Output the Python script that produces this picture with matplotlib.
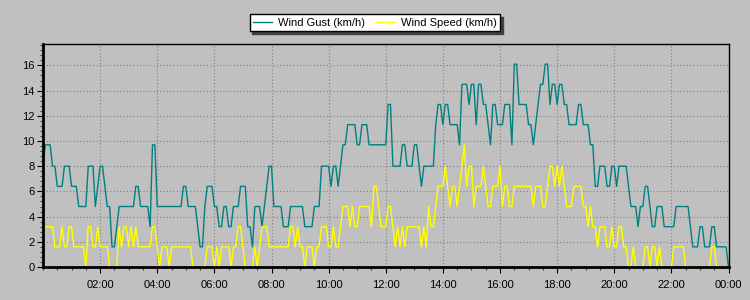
import matplotlib
matplotlib.use("Agg")
import matplotlib.pyplot as plt
from matplotlib.ticker import MultipleLocator, FixedLocator, FixedFormatter

plt.rcParams['font.family'] = ['Liberation Sans', 'DejaVu Sans']

# 5-minute samples from 00:00 to 24:00 (one row per hour)
wind_gust = [
    8.0, 9.7, 9.7, 9.7, 8.0, 8.0, 6.4, 6.4, 6.4, 8.0, 8.0, 8.0,
    6.4, 6.4, 6.4, 4.8, 4.8, 4.8, 4.8, 8.0, 8.0, 8.0, 4.8, 6.4,
    8.0, 8.0, 6.4, 4.8, 4.8, 1.6, 1.6, 3.2, 4.8, 4.8, 4.8, 4.8,
    4.8, 4.8, 4.8, 6.4, 6.4, 4.8, 4.8, 4.8, 4.8, 3.2, 9.7, 9.7,
    4.8, 4.8, 4.8, 4.8, 4.8, 4.8, 4.8, 4.8, 4.8, 4.8, 4.8, 6.4,
    6.4, 4.8, 4.8, 4.8, 4.8, 3.2, 1.6, 1.6, 4.8, 6.4, 6.4, 6.4,
    4.8, 4.8, 3.2, 3.2, 4.8, 4.8, 3.2, 3.2, 4.8, 4.8, 4.8, 6.4,
    6.4, 6.4, 3.2, 3.2, 1.6, 4.8, 4.8, 4.8, 3.2, 4.8, 6.4, 8.0,
    8.0, 4.8, 4.8, 4.8, 4.8, 3.2, 3.2, 3.2, 4.8, 4.8, 4.8, 4.8,
    4.8, 4.8, 3.2, 3.2, 3.2, 3.2, 4.8, 4.8, 4.8, 8.0, 8.0, 8.0,
    8.0, 6.4, 8.0, 8.0, 6.4, 8.0, 9.7, 9.7, 11.3, 11.3, 11.3, 11.3,
    9.7, 9.7, 11.3, 11.3, 11.3, 9.7, 9.7, 9.7, 9.7, 9.7, 9.7, 9.7,
    9.7, 12.9, 12.9, 8.0, 8.0, 8.0, 8.0, 9.7, 9.7, 8.0, 8.0, 8.0,
    9.7, 9.7, 8.0, 6.4, 8.0, 8.0, 8.0, 8.0, 8.0, 11.3, 12.9, 12.9,
    11.3, 12.9, 12.9, 11.3, 11.3, 11.3, 11.3, 9.7, 14.5, 14.5, 14.5, 12.9,
    14.5, 14.5, 11.3, 14.5, 14.5, 12.9, 12.9, 11.3, 9.7, 12.9, 12.9, 11.3,
    11.3, 11.3, 12.9, 12.9, 12.9, 9.7, 16.1, 16.1, 12.9, 12.9, 12.9, 12.9,
    11.3, 11.3, 9.7, 11.3, 12.9, 14.5, 14.5, 16.1, 16.1, 12.9, 14.5, 14.5,
    12.9, 14.5, 14.5, 12.9, 12.9, 11.3, 11.3, 11.3, 11.3, 12.9, 12.9, 11.3,
    11.3, 11.3, 9.7, 9.7, 6.4, 6.4, 8.0, 8.0, 8.0, 6.4, 6.4, 8.0,
    8.0, 6.4, 8.0, 8.0, 8.0, 8.0, 6.4, 4.8, 4.8, 4.8, 3.2, 4.8,
    4.8, 6.4, 6.4, 4.8, 3.2, 3.2, 4.8, 4.8, 4.8, 3.2, 3.2, 3.2,
    3.2, 3.2, 4.8, 4.8, 4.8, 4.8, 4.8, 4.8, 3.2, 1.6, 1.6, 1.6,
    3.2, 3.2, 1.6, 1.6, 1.6, 3.2, 3.2, 1.6, 1.6, 1.6, 1.6, 1.6,
    0.0,
]

wind_speed = [
    3.2, 3.2, 3.2, 3.2, 3.2, 1.6, 1.6, 1.6, 3.2, 1.6, 1.6, 3.2,
    3.2, 1.6, 1.6, 1.6, 1.6, 1.6, 0.0, 3.2, 3.2, 1.6, 1.6, 3.2,
    1.6, 1.6, 1.6, 1.6, 0.0, 0.0, 0.0, 0.0, 3.2, 1.6, 3.2, 3.2,
    1.6, 3.2, 1.6, 3.2, 1.6, 1.6, 1.6, 1.6, 1.6, 1.6, 3.2, 3.2,
    1.6, 0.0, 1.6, 1.6, 1.6, 0.0, 1.6, 1.6, 1.6, 1.6, 1.6, 1.6,
    1.6, 1.6, 1.6, 0.0, 0.0, 0.0, 0.0, 0.0, 0.0, 1.6, 1.6, 1.6,
    0.0, 1.6, 0.0, 1.6, 1.6, 1.6, 1.6, 0.0, 1.6, 1.6, 3.2, 3.2,
    1.6, 0.0, 0.0, 0.0, 0.0, 1.6, 0.0, 1.6, 3.2, 3.2, 3.2, 1.6,
    1.6, 1.6, 1.6, 1.6, 1.6, 1.6, 1.6, 1.6, 3.2, 3.2, 1.6, 3.2,
    1.6, 1.6, 0.0, 1.6, 1.6, 1.6, 0.0, 1.6, 1.6, 3.2, 3.2, 3.2,
    1.6, 1.6, 3.2, 1.6, 1.6, 3.2, 4.8, 4.8, 4.8, 3.2, 4.8, 3.2,
    3.2, 4.8, 4.8, 4.8, 4.8, 4.8, 3.2, 6.4, 6.4, 4.8, 3.2, 3.2,
    3.2, 4.8, 4.8, 3.2, 1.6, 3.2, 1.6, 3.2, 1.6, 3.2, 3.2, 3.2,
    3.2, 3.2, 3.2, 1.6, 3.2, 1.6, 4.8, 3.2, 3.2, 4.8, 6.4, 6.4,
    6.4, 8.0, 6.4, 4.8, 6.4, 6.4, 4.8, 6.4, 8.0, 9.7, 6.4, 8.0,
    8.0, 4.8, 6.4, 6.4, 6.4, 8.0, 6.4, 4.8, 4.8, 6.4, 6.4, 6.4,
    8.0, 4.8, 6.4, 6.4, 4.8, 4.8, 6.4, 6.4, 6.4, 6.4, 6.4, 6.4,
    6.4, 6.4, 4.8, 6.4, 6.4, 6.4, 4.8, 4.8, 6.4, 8.0, 8.0, 6.4,
    8.0, 6.4, 8.0, 6.4, 4.8, 4.8, 4.8, 6.4, 6.4, 6.4, 6.4, 4.8,
    4.8, 3.2, 4.8, 3.2, 3.2, 1.6, 3.2, 3.2, 3.2, 1.6, 1.6, 3.2,
    1.6, 1.6, 3.2, 3.2, 1.6, 1.6, 0.0, 0.0, 1.6, 0.0, 0.0, 0.0,
    0.0, 1.6, 1.6, 0.0, 1.6, 1.6, 0.0, 1.6, 0.0, 0.0, 0.0, 0.0,
    0.0, 1.6, 1.6, 1.6, 1.6, 1.6, 0.0, 0.0, 0.0, 0.0, 0.0, 0.0,
    0.0, 0.0, 0.0, 0.0, 0.0, 1.6, 1.6, 0.0, 0.0, 0.0, 0.0, 0.0,
    0.0,
]

hours = [i * 5 / 60 for i in range(len(wind_gust))]

xtick_pos = [2, 4, 6, 8, 10, 12, 14, 16, 18, 20, 22, 24]
xtick_labels = ["02:00", "04:00", "06:00", "08:00", "10:00", "12:00",
                "14:00", "16:00", "18:00", "20:00", "22:00", "00:00"]
ytick_pos = [0, 2, 4, 6, 8, 10, 12, 14, 16]

bg = '#c0c0c0'
fig = plt.figure(figsize=(7.5, 3), dpi=100, facecolor=bg)
ax = fig.add_axes([43 / 750, 1 - 267 / 300, (728.5 - 43) / 750, (267 - 44) / 300])
ax.set_facecolor(bg)

ax.plot(hours, wind_gust, color='#008080', lw=1.0, label='Wind Gust (km/h)')
ax.plot(hours, wind_speed, color='#ffff00', lw=1.0, label='Wind Speed (km/h)')

ax.set_xlim(0, 24)
ax.set_ylim(0, 17.7)

ax.xaxis.set_major_locator(FixedLocator(xtick_pos))
ax.xaxis.set_major_formatter(FixedFormatter(xtick_labels))
ax.xaxis.set_minor_locator(MultipleLocator(0.5))
ax.yaxis.set_major_locator(FixedLocator(ytick_pos))
ax.yaxis.set_minor_locator(MultipleLocator(0.4))

ax.grid(True, which='major', color='#808080', linestyle=(0, (1, 2)), linewidth=0.8)
ax.tick_params(which='major', direction='out', length=4, width=0.8, colors='black',
               labelsize=8, pad=2)
ax.tick_params(axis='x', which='major', pad=5)
ax.tick_params(which='minor', direction='out', length=2, width=0.8, color='#404040')

for side in ['top', 'right']:
    ax.spines[side].set_linewidth(1.0)
for side in ['left', 'bottom']:
    ax.spines[side].set_linewidth(2.0)

leg = fig.legend(loc='center', bbox_to_anchor=(0.5, 0.925), ncol=2, fontsize=8,
                 frameon=True, fancybox=False, framealpha=1, facecolor='white',
                 edgecolor='black', handlelength=1.7, handletextpad=0.55,
                 columnspacing=1.0, borderpad=0.3,
                 shadow={'color': '#404040', 'alpha': 1})
leg.get_frame().set_linewidth(1.0)

fig.savefig('out.png', dpi=100, facecolor=bg)
